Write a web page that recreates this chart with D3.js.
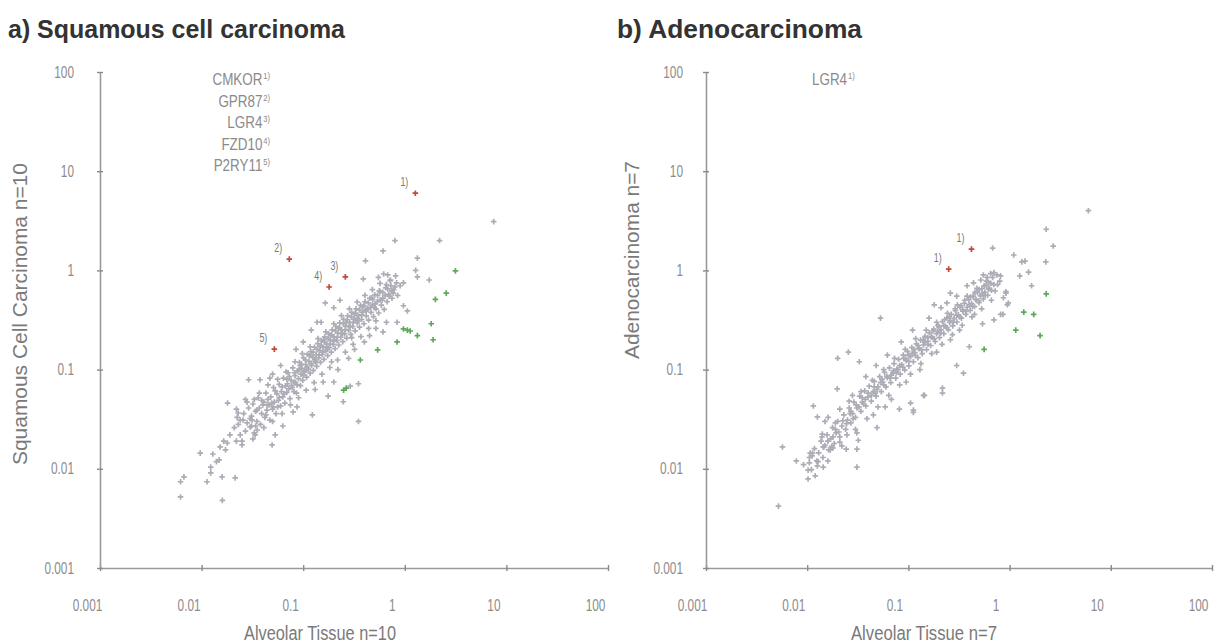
<!DOCTYPE html>
<html lang="en">
<head>
    <meta charset="UTF-8">
    <script type="text/javascript" src="https://d3js.org/d3.v7.min.js"></script>
    <title>GPCR expression</title>
    <style>
        body { margin: 0; background: #fff; }
        text { font-family: "Liberation Sans", Arial, Helvetica, sans-serif; }
    </style>
</head>
<body>
    <svg id="plot"></svg>

    <script type="text/javascript">
    // axis ticks (log scale, both axes, both panels)
    const tickValues = [0.001, 0.01, 0.1, 1, 10, 100];
    const tickLabels = ["0.001", "0.01", "0.1", "1", "10", "100"];

    // a) squamous cell carcinoma: [alveolar tissue, tumour]
    const squamousGray = [
        [7.5,3.1],[0.8,2.0],[2.2,2.0],[0.61,1.57],[0.41,1.25],[1.33,1.33],[1.28,1.0],[1.33,0.86],[1.74,0.8],
        [0.97,0.75],[0.97,0.44],[1.06,0.39],[0.77,0.59],[0.66,0.30],[0.61,0.24],[0.84,0.3],[0.39,0.82],
        [0.165,0.47],[0.23,0.5],[0.137,0.3],[0.2,0.42],[0.68,0.9],[0.72,0.8],[0.8,0.68],[0.75,0.62],[0.7,0.55],[0.85,0.56],
        [0.0062,0.0052],[0.0062,0.0074],[0.0067,0.0083],[0.016,0.0048],[0.0113,0.0074],[0.0159,0.0083],[0.0214,0.0081],
        [0.0123,0.0104],[0.0123,0.0091],[0.0097,0.0144],[0.0129,0.0141],[0.0149,0.0123],[0.0152,0.0166],[0.0179,0.0182],
        [0.019,0.022],[0.025,0.0174],[0.018,0.046],[0.0165,0.019],[0.0172,0.0155],[0.014,0.0118],
        [0.029,0.079],[0.0376,0.079],[0.047,0.082],[0.027,0.050],[0.0229,0.0365],[0.0224,0.033],[0.0256,0.031],
        [0.030,0.0264],[0.0353,0.0246],[0.0336,0.022],[0.0494,0.0174],[0.053,0.022],[0.063,0.027],[0.123,0.035],
        [0.35,0.030],[0.248,0.0474],[0.176,0.054],[0.29,0.068],[0.35,0.072],[0.157,0.075],[0.131,0.063],
        [0.0796,0.0374],[0.087,0.042],[0.044,0.044],[0.0505,0.042],[0.039,0.049],[0.035,0.039],[0.0314,0.031],
        [0.021,0.026],[0.022,0.019],[0.024,0.031],[0.024,0.022],[0.026,0.036],[0.027,0.024],[0.028,0.029],[0.029,0.041],
        [0.031,0.027],[0.031,0.034],[0.032,0.045],[0.033,0.023],[0.034,0.038],[0.035,0.030],[0.036,0.052],[0.037,0.041],
        [0.038,0.028],[0.039,0.036],[0.041,0.047],[0.042,0.033],[0.043,0.058],[0.044,0.039],[0.046,0.044],[0.047,0.031],
        [0.048,0.053],[0.050,0.040],[0.051,0.066],[0.052,0.047],[0.054,0.036],[0.055,0.057],[0.057,0.049],[0.058,0.071],
        [0.060,0.043],[0.061,0.060],[0.063,0.053],[0.064,0.082],[0.066,0.046],[0.067,0.068],[0.069,0.059],[0.071,0.093],
        [0.072,0.064],[0.074,0.051],[0.076,0.078],[0.077,0.069],[0.079,0.104],[0.081,0.060],[0.083,0.087],[0.084,0.074],
        [0.086,0.058],[0.088,0.097],[0.090,0.081],[0.092,0.118],[0.094,0.069],[0.095,0.090],[0.097,0.103],[0.099,0.078],
        [0.101,0.131],[0.103,0.095],[0.106,0.112],[0.108,0.084],[0.110,0.143],[0.112,0.101],[0.114,0.121],[0.117,0.092],
        [0.119,0.152],[0.121,0.110],[0.124,0.133],[0.126,0.098],[0.129,0.168],[0.131,0.122],[0.134,0.141],[0.136,0.108],
        [0.139,0.183],[0.142,0.131],[0.145,0.155],[0.148,0.118],[0.151,0.196],[0.154,0.142],[0.157,0.167],[0.160,0.127],
        [0.163,0.214],[0.167,0.154],[0.170,0.182],[0.174,0.138],[0.178,0.231],[0.181,0.166],[0.185,0.197],[0.189,0.150],
        [0.193,0.252],[0.197,0.180],[0.201,0.214],[0.206,0.163],[0.210,0.272],[0.215,0.196],[0.219,0.233],[0.224,0.177],
        [0.229,0.296],[0.234,0.212],[0.239,0.252],[0.245,0.191],[0.250,0.321],[0.256,0.229],[0.262,0.274],[0.268,0.208],
        [0.274,0.349],[0.280,0.249],[0.287,0.298],[0.294,0.226],[0.300,0.378],[0.308,0.272],[0.316,0.322],[0.324,0.246],
        [0.332,0.410],[0.340,0.295],[0.349,0.350],[0.358,0.268],[0.367,0.445],[0.376,0.320],[0.386,0.380],[0.396,0.290],
        [0.406,0.482],[0.417,0.348],[0.428,0.412],[0.440,0.316],[0.452,0.523],[0.465,0.378],[0.478,0.447],[0.492,0.342],
        [0.506,0.566],[0.521,0.410],[0.536,0.484],[0.553,0.372],[0.570,0.615],[0.588,0.446],[0.607,0.526],[0.627,0.404],
        [0.648,0.668],[0.670,0.484],[0.694,0.572],[0.720,0.790],[0.748,0.524],[0.778,0.640],[0.812,0.880],
        [0.023,0.028],[0.030,0.032],[0.034,0.027],[0.040,0.044],[0.045,0.050],[0.049,0.046],[0.053,0.061],[0.056,0.042],
        [0.062,0.067],[0.065,0.057],[0.070,0.072],[0.073,0.085],[0.078,0.066],[0.082,0.093],[0.087,0.070],[0.091,0.100],
        [0.096,0.113],[0.100,0.088],[0.105,0.125],[0.109,0.106],[0.115,0.138],[0.120,0.115],[0.125,0.150],[0.130,0.127],
        [0.137,0.160],[0.143,0.140],[0.150,0.176],[0.156,0.150],[0.162,0.190],[0.169,0.170],[0.176,0.205],[0.183,0.180],
        [0.191,0.224],[0.199,0.195],[0.208,0.245],[0.217,0.212],[0.227,0.265],[0.237,0.232],[0.248,0.290],[0.259,0.252],
        [0.271,0.318],[0.283,0.275],[0.297,0.340],[0.311,0.300],[0.326,0.372],[0.342,0.330],[0.359,0.400],[0.377,0.356],
        [0.396,0.438],[0.416,0.390],[0.437,0.470],[0.460,0.425],[0.484,0.510],[0.510,0.460],[0.540,0.560],[0.572,0.505],
        [0.606,0.600],[0.640,0.560],[0.680,0.650],[0.730,0.700],
        [0.45,0.22],[0.52,0.26],[0.28,0.13],[0.22,0.10],[0.19,0.12],[0.32,0.16],[0.4,0.19],[0.3,0.21],[0.2,0.075],
        [0.06,0.11],[0.085,0.16],[0.12,0.25],[0.1,0.19],[0.15,0.3],[0.05,0.09],[0.55,0.85],[0.62,0.92],[0.9,0.7],
        [0.022,0.040],[0.025,0.019],[0.028,0.047],[0.032,0.020],[0.037,0.058],[0.041,0.026],[0.045,0.070],[0.05,0.030],
        [0.056,0.080],[0.062,0.036],[0.068,0.095],[0.075,0.044],[0.083,0.120],[0.09,0.052],[0.098,0.145],[0.107,0.062],
        [0.117,0.170],[0.128,0.074],[0.14,0.205],[0.153,0.090],[0.167,0.24],[0.183,0.105],[0.2,0.29],[0.218,0.125],
        [0.238,0.35],[0.26,0.15],[0.285,0.41],[0.31,0.18],[0.34,0.48],[0.37,0.215],[0.405,0.56],[0.44,0.26],
        [0.48,0.64],[0.52,0.31],[0.57,0.74],
        [0.033,0.05],[0.043,0.035],[0.058,0.052],[0.069,0.08],[0.081,0.075],[0.093,0.11],[0.104,0.098],[0.118,0.14],
        [0.133,0.118],[0.147,0.17],[0.16,0.2],[0.172,0.16],[0.186,0.22],[0.204,0.2],[0.222,0.26],[0.243,0.23],
        [0.265,0.3],[0.29,0.27],[0.318,0.36],[0.345,0.31],[0.382,0.43],[0.42,0.4],[0.47,0.53],[0.5,0.42],
        [0.56,0.62],[0.6,0.5],[0.66,0.72],[0.74,0.62],[0.83,0.75]
    ];
    const squamousUp = [[1.27,6.0],[0.073,1.30],[0.26,0.86],[0.18,0.68],[0.052,0.161]];
    const squamousUpLabels = ["1)", "2)", "3)", "4)", "5)"];
    const squamousDown = [
        [3.15,0.99],[2.56,0.59],[2.0,0.51],[1.82,0.29],[1.33,0.22],[1.9,0.2],[0.84,0.19],
        [0.97,0.257],[1.06,0.25],[1.13,0.245],[0.54,0.158],[0.365,0.125],[0.25,0.062],[0.265,0.065]
    ];
    const squamousGenes = ["CMKOR", "GPR87", "LGR4", "FZD10", "P2RY11"];
    const squamousGeneRefs = ["1)", "2)", "3)", "4)", "5)"];

    // b) adenocarcinoma: [alveolar tissue, tumour]
    const adenoGray = [
        [6.0,4.0],[2.3,2.6],[2.7,1.76],[2.28,1.22],[1.1,1.43],[1.32,1.22],[1.42,1.24],[1.54,0.96],[1.26,0.88],
        [1.65,0.70],[0.815,0.88],[0.92,0.61],[0.87,0.53],[0.95,0.45],[0.97,0.47],[0.86,0.36],[0.68,1.68],[0.65,0.93],
        [0.38,0.70],[0.52,0.8],[0.92,0.59],[0.815,0.36],[0.70,0.317],[0.54,0.29],[0.40,0.17],[0.35,0.092],[0.30,0.11],
        [0.217,0.065],[0.217,0.058],[0.141,0.055],[0.112,0.039],[0.053,0.33],[0.0255,0.15],[0.020,0.13],[0.0327,0.12],
        [0.0198,0.064],[0.0115,0.043],[0.18,0.45],[0.24,0.47],[0.26,0.59],
        [0.75,0.9],[0.8,0.78],[0.7,0.95],[0.6,0.85],[0.55,0.9],
        [0.0126,0.0333],[0.0057,0.0166],[0.0078,0.012],[0.0102,0.0097],[0.0102,0.0079],[0.0052,0.0042],[0.031,0.0104],
        [0.031,0.0158],[0.0243,0.0158],[0.0141,0.0224],[0.0161,0.033],[0.0113,0.0144],[0.0107,0.0144],[0.0126,0.0107],
        [0.0144,0.0104],[0.0144,0.0166],[0.0169,0.0155],[0.018,0.0162],[0.021,0.0186],[0.0247,0.022],[0.031,0.023],
        [0.032,0.0194],[0.049,0.026],[0.0815,0.040],[0.112,0.037],[0.105,0.046],[0.144,0.055],[0.059,0.042],
        [0.0105,0.0115],[0.0092,0.011],
        [0.0105,0.013],[0.011,0.0098],[0.0118,0.016],[0.0124,0.012],[0.013,0.0145],[0.0137,0.019],[0.0143,0.013],
        [0.015,0.0172],[0.0157,0.022],[0.0163,0.0155],[0.017,0.020],[0.0178,0.026],[0.0185,0.018],[0.0193,0.023],
        [0.020,0.030],[0.021,0.021],[0.022,0.027],[0.023,0.035],[0.024,0.025],[0.025,0.031],[0.026,0.041],[0.027,0.029],
        [0.028,0.036],[0.029,0.047],[0.030,0.033],[0.031,0.041],[0.033,0.054],[0.034,0.038],[0.035,0.047],[0.037,0.061],
        [0.038,0.043],[0.040,0.053],[0.041,0.068],[0.043,0.048],[0.045,0.060],[0.046,0.076],[0.048,0.054],[0.050,0.067],
        [0.052,0.085],[0.054,0.060],[0.056,0.075],[0.058,0.094],[0.060,0.067],[0.062,0.083],[0.065,0.104],[0.067,0.074],
        [0.070,0.092],[0.072,0.115],[0.075,0.082],[0.077,0.101],[0.080,0.127],[0.083,0.090],[0.086,0.112],[0.089,0.140],
        [0.092,0.099],[0.095,0.123],[0.098,0.153],[0.101,0.109],[0.105,0.135],[0.108,0.167],[0.112,0.120],[0.116,0.148],
        [0.120,0.182],[0.124,0.132],[0.128,0.162],[0.132,0.198],[0.137,0.145],[0.141,0.177],[0.146,0.216],[0.151,0.159],
        [0.156,0.193],[0.161,0.235],[0.166,0.175],[0.172,0.211],[0.178,0.256],[0.184,0.192],[0.190,0.230],[0.196,0.279],
        [0.203,0.210],[0.210,0.251],[0.217,0.304],[0.224,0.230],[0.232,0.274],[0.240,0.331],[0.248,0.252],[0.256,0.299],
        [0.265,0.360],[0.274,0.276],[0.283,0.326],[0.292,0.392],[0.302,0.302],[0.312,0.356],[0.323,0.427],[0.334,0.330],
        [0.345,0.389],[0.357,0.465],[0.369,0.361],[0.381,0.425],[0.394,0.506],[0.408,0.395],[0.421,0.464],[0.436,0.551],
        [0.450,0.432],[0.466,0.506],[0.481,0.600],[0.498,0.472],[0.515,0.553],[0.532,0.653],[0.550,0.515],[0.569,0.603],
        [0.588,0.710],[0.608,0.562],[0.629,0.658],[0.650,0.740],
        [0.0112,0.0135],[0.0128,0.0118],[0.0146,0.0165],[0.016,0.019],[0.0175,0.0168],[0.019,0.025],[0.0205,0.0235],
        [0.0225,0.0305],[0.0245,0.0285],[0.0265,0.036],[0.0285,0.032],[0.0305,0.044],[0.0325,0.042],[0.035,0.052],
        [0.0375,0.050],[0.040,0.058],[0.043,0.055],[0.046,0.067],[0.049,0.063],[0.053,0.074],[0.057,0.070],[0.061,0.086],
        [0.066,0.082],[0.071,0.097],[0.076,0.093],[0.082,0.110],[0.088,0.106],[0.094,0.128],[0.101,0.121],[0.109,0.146],
        [0.117,0.139],[0.126,0.165],[0.135,0.158],[0.145,0.188],[0.156,0.180],[0.168,0.214],[0.180,0.205],[0.194,0.243],
        [0.208,0.233],[0.224,0.276],[0.240,0.265],[0.258,0.312],[0.278,0.300],[0.299,0.354],[0.321,0.340],[0.345,0.400],
        [0.371,0.385],[0.399,0.452],[0.429,0.436],[0.461,0.512],[0.496,0.494],[0.533,0.580],[0.573,0.560],[0.616,0.650],
        [0.662,0.630],[0.700,0.720],
        [0.012,0.0085],[0.014,0.021],[0.016,0.012],[0.019,0.029],[0.022,0.017],[0.026,0.048],[0.03,0.025],[0.034,0.06],
        [0.039,0.032],[0.044,0.078],[0.05,0.042],[0.057,0.1],[0.064,0.055],[0.073,0.13],[0.082,0.07],[0.093,0.16],
        [0.105,0.09],[0.118,0.205],[0.133,0.115],[0.15,0.25],[0.17,0.145],[0.19,0.3],[0.215,0.18],[0.243,0.37],
        [0.272,0.225],[0.305,0.45],[0.34,0.28],[0.38,0.55],[0.425,0.34],[0.475,0.66],[0.53,0.41],[0.59,0.78],
        [0.66,0.5],[0.72,0.62],
        [0.018,0.021],[0.027,0.038],[0.036,0.045],[0.047,0.058],[0.055,0.08],[0.068,0.088],[0.079,0.1],[0.09,0.13],
        [0.1,0.14],[0.113,0.16],[0.125,0.175],[0.14,0.2],[0.155,0.21],[0.175,0.245],[0.2,0.27],[0.228,0.32],
        [0.255,0.34],[0.29,0.41],[0.33,0.44],[0.36,0.5],[0.41,0.54],[0.455,0.6],[0.5,0.64],[0.56,0.7],
        [0.62,0.76],[0.68,0.85],[0.76,0.72],
        [0.015,0.03],[0.021,0.04],[0.028,0.055],[0.038,0.085],[0.048,0.11],[0.062,0.14],[0.085,0.19],[0.11,0.25],
        [0.16,0.33],[0.21,0.42],[0.045,0.035],[0.068,0.05],[0.095,0.075],[0.13,0.1],[0.19,0.15],[0.26,0.2],
        [0.32,0.25],[0.45,0.36],[0.3,0.55],[0.44,0.75]
    ];
    const adenoUp = [[0.42,1.64],[0.25,1.03]];
    const adenoUpLabels = ["1)", "1)"];
    const adenoDown = [[2.3,0.58],[1.38,0.38],[1.73,0.36],[1.15,0.25],[2.0,0.22],[0.56,0.16]];
    const adenoGenes = ["LGR4"];
    const adenoGeneRefs = ["1)"];

    const width = 1229, height = 644;
    const sx = 0.74; // horizontal squeeze of the original figure's lettering
    const svg = d3.select("#plot").attr("width", width).attr("height", height);

    const cross = "M-2.8,0H2.8M0,-2.8V2.8";

    function drawPanel(p) {
        const x = d3.scaleLog().domain([0.001, 100]).range([p.left, p.right]);
        const y = d3.scaleLog().domain([0.001, 100]).range([568, 72]);
        const g = svg.append("g");

        // title
        g.append("text").attr("x", p.titleX).attr("y", 38)
            .attr("font-size", 25).attr("font-weight", "bold").attr("fill", "#333")
            .attr("textLength", p.titleLen).attr("lengthAdjust", "spacingAndGlyphs")
            .text(p.title);

        // axes
        const xAxis = d3.axisBottom(x).tickValues(tickValues)
            .tickFormat((d, i) => tickLabels[i]).tickSizeInner(3).tickSizeOuter(0);
        const gx = g.append("g").attr("transform", `translate(0,568)`).call(xAxis);
        const yAxis = d3.axisLeft(y).tickValues(tickValues)
            .tickFormat((d, i) => tickLabels[i]).tickSizeInner(3).tickSizeOuter(0);
        const gy = g.append("g").attr("transform", `translate(${p.left},0)`).call(yAxis);

        [gx, gy].forEach(a => {
            a.select(".domain").attr("stroke", "#9a9a9a").attr("stroke-width", 1.6);
            a.selectAll(".tick line").attr("stroke", "#8a8a8a").attr("stroke-width", 1.4);
            a.selectAll(".tick text").attr("fill", "#8c8c8c").attr("font-size", 16)
                .attr("font-family", "'Liberation Sans', Arial, sans-serif");
        });
        gx.selectAll(".tick line").attr("y1", -3).attr("y2", 3);
        gx.selectAll(".tick text").attr("y", 43).attr("dy", 0)
            .attr("x", p.xLabelShift / sx).attr("transform", `scale(${sx},1)`);
        gy.selectAll(".tick line").attr("x1", -3).attr("x2", 3);
        gy.selectAll(".tick text").attr("x", -p.yLabelGap / sx)
            .attr("transform", `scale(${sx},1)`);

        // axis titles
        g.append("text").attr("x", p.xTitleX).attr("y", 640)
            .attr("text-anchor", "middle").attr("font-size", 20).attr("fill", "#7a7a7a")
            .attr("textLength", p.xTitleLen).attr("lengthAdjust", "spacingAndGlyphs")
            .text(p.xTitle);
        g.append("text")
            .attr("transform", `translate(${p.yTitleX},${p.yTitleY}) rotate(-90)`)
            .attr("text-anchor", "middle").attr("dy", "0.35em").attr("font-size", 20).attr("fill", "#7a7a7a")
            .attr("textLength", p.yTitleLen).attr("lengthAdjust", "spacingAndGlyphs")
            .text(p.yTitle);

        // gene list
        const legend = g.append("g").attr("fill", "#8a8a8a")
            .attr("transform", `translate(${p.legendX},0) scale(0.84,1)`);
        p.genes.forEach((name, i) => {
            const t = legend.append("text").attr("x", 0).attr("y", 85 + i * 21.6)
                .attr("text-anchor", p.legendAnchor).attr("font-size", 16);
            t.append("tspan").text(name);
            t.append("tspan").attr("font-size", 9).attr("dy", -6).attr("dx", 1).text(p.geneRefs[i]);
        });

        // points
        const dot = (data, color) => g.append("g").attr("fill", "none").attr("stroke", color)
            .attr("stroke-width", 1.7)
            .selectAll("path").data(data).enter().append("path")
            .attr("d", cross)
            .attr("transform", d => `translate(${x(d[0])},${y(d[1])})`);
        dot(p.gray, "#acacb6");
        dot(p.down, "#5ea957");
        dot(p.up, "#c8453b");

        // labels next to the marked genes
        g.append("g").selectAll("text").data(p.up).enter().append("text")
            .attr("transform", d => `translate(${x(d[0]) - 11},${y(d[1]) - 7}) scale(${sx},1)`)
            .attr("text-anchor", "middle").attr("font-size", 12).attr("fill", "#777")
            .text((d, i) => p.upLabels[i]);
    }

    drawPanel({
        left: 100, right: 608, title: "a) Squamous cell carcinoma", titleX: 8, titleLen: 337,
        xTitle: "Alveolar Tissue n=10", xTitleX: 320, xTitleLen: 152,
        yTitle: "Squamous Cell Carcinoma n=10", yTitleX: 20, yTitleY: 314, yTitleLen: 302,
        xLabelShift: -13, yLabelGap: 26,
        genes: squamousGenes, geneRefs: squamousGeneRefs, legendX: 270, legendAnchor: "end",
        gray: squamousGray, up: squamousUp, upLabels: squamousUpLabels, down: squamousDown
    });
    drawPanel({
        left: 706, right: 1212, title: "b) Adenocarcinoma", titleX: 617, titleLen: 245,
        xTitle: "Alveolar Tissue n=7", xTitleX: 924, xTitleLen: 146,
        yTitle: "Adenocarcinoma n=7", yTitleX: 632, yTitleY: 260, yTitleLen: 198,
        xLabelShift: -14, yLabelGap: 23,
        genes: adenoGenes, geneRefs: adenoGeneRefs, legendX: 812, legendAnchor: "start",
        gray: adenoGray, up: adenoUp, upLabels: adenoUpLabels, down: adenoDown
    });
    </script>
</body>
</html>
